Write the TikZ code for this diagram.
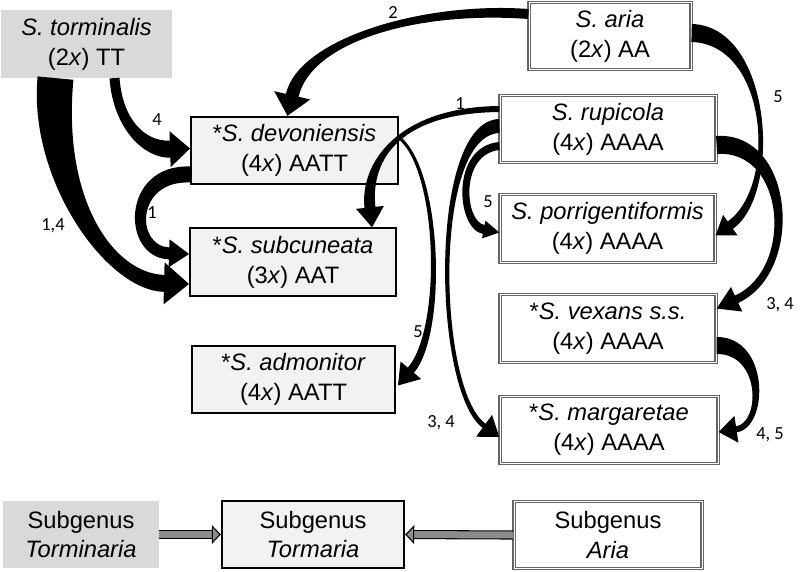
\documentclass[tikz,border=0pt]{standalone}
\usepackage{fontspec}
\setmainfont{Liberation Sans}
\newfontfamily\numfont{Carlito}
\usetikzlibrary{arrows.meta,calc}
% tapered bent arrow: {start}{control}{control}{tip}{half width start}{half width middle}{half width end}{head length}{head half width}
\def\bentarrow#1#2#3#4#5#6#7#8#9{%
  \coordinate (ba) at (#1);
  \coordinate (bc) at (#2);
  \coordinate (bd) at (#3);
  \coordinate (bb) at (#4);
  \coordinate (bt) at ($(bb)!#8!(bd)$);
  % left edge
  \coordinate (l1) at ($(ba)!#5!90:(bc)$);
  \coordinate (l2) at ($(bc)!#5!-90:(ba)$);
  \coordinate (l3) at ($(bc)!#6!90:(bd)$);
  \coordinate (l4) at ($(bd)!#6!-90:(bc)$);
  \coordinate (l5) at ($(bd)!#7!90:(bt)$);
  \coordinate (l6) at ($(bt)!#7!-90:(bd)$);
  \coordinate (lc1) at (intersection of l1--l2 and l3--l4);
  \coordinate (lc2) at (intersection of l3--l4 and l5--l6);
  % right edge
  \coordinate (r1) at ($(ba)!#5!-90:(bc)$);
  \coordinate (r2) at ($(bc)!#5!90:(ba)$);
  \coordinate (r3) at ($(bc)!#6!-90:(bd)$);
  \coordinate (r4) at ($(bd)!#6!90:(bc)$);
  \coordinate (r5) at ($(bd)!#7!-90:(bt)$);
  \coordinate (r6) at ($(bt)!#7!90:(bd)$);
  \coordinate (rc1) at (intersection of r1--r2 and r3--r4);
  \coordinate (rc2) at (intersection of r3--r4 and r5--r6);
  \fill (l1) .. controls (lc1) and (lc2) .. (l6) -- ($(bt)!#9!-90:(bd)$) -- (bb) -- ($(bt)!#9!90:(bd)$)
    -- (r6) .. controls (rc2) and (rc1) .. (r1) -- cycle;
}
\tikzset{
  spbox/.style={minimum width=#1, minimum height=1.35cm, inner sep=0pt, align=center, font=\fontsize{13.5}{17}\selectfont},
  torm/.style={spbox=#1, fill=black!15},
  hyb/.style={spbox=#1, fill=black!5, draw=black, line width=1.1pt},
  ariab/.style={spbox=#1, fill=white, draw=black!60, double=white, double distance=0.5pt, line width=0.7pt},
  num/.style={font=\numfont\fontsize{10.5}{12}\selectfont, inner sep=1pt},
  subarr/.style={draw=black, line width=0.6pt, double=black!45, double distance=0.14cm, -{Triangle[length=0.18cm,width=0.38cm,fill=black!45]}}
}

\begin{document}
\begin{tikzpicture}[x=0.02cm, y=-0.02cm]
			%%%%% START %%%%%
			\useasboundingbox (0,0) rectangle (800,571);
			
			% species
			\node[torm=3.42cm] (tormin) at (86.5,44) {\textit{S. torminalis}\\(2\textit{x}) TT};
			\node[ariab=3.24cm] (aria) at (610,36) {\textit{S. aria}\\(2\textit{x}) AA};
			\node[hyb=4.14cm] (devon) at (294.5,150.5) {*\textit{S. devoniensis}\\(4\textit{x}) AATT};
			\node[ariab=4.32cm] (rupic) at (608,129) {\textit{S. rupicola}\\(4\textit{x}) AAAA};
			\node[ariab=4.3cm] (porrig) at (607.5,228.5) {\textit{S. porrigentiformis}\\(4\textit{x}) AAAA};
			\node[hyb=4.12cm] (subcun) at (293,262) {*\textit{S. subcuneata}\\(3\textit{x}) AAT};
			\node[hyb=4.06cm] (admon) at (293.5,379.5) {*\textit{S. admonitor}\\(4\textit{x}) AATT};
			\node[ariab=4.32cm] (vexans) at (608,328.5) {*\textit{S. vexans s.s.}\\(4\textit{x}) AAAA};
			\node[ariab=4.36cm] (margar) at (609,430) {*\textit{S. margaretae}\\(4\textit{x}) AAAA};
			
			% subgenera
			\node[torm=3.12cm] (subTorminaria) at (81,534.5) {Subgenus\\\textit{Torminaria}};
			\node[hyb=3.64cm, line width=1.4pt] (subTormaria) at (313,534.5) {Subgenus\\\textit{Tormaria}};
			\node[ariab=3.76cm] (subAria) at (608,535) {Subgenus\\\textit{Aria}};
			
			\draw[subarr] (subTorminaria.east) -- (subTormaria.west);
			\draw[subarr] (subAria.west) -- (subTormaria.east);
			
			% crosses
			\bentarrow{$(tormin.south)+(28,0)$}{118,125}{145,150}{$(devon.west)+(0,-2)$}{0.1cm}{0.13cm}{0.17cm}{0.4cm}{0.36cm}
			\bentarrow{$(tormin.south)+(-31,0)$}{45,190}{110,282}{$(subcun.west)+(0,22)$}{0.36cm}{0.16cm}{0.17cm}{0.5cm}{0.42cm}
			\bentarrow{$(devon.west)+(0,24)$}{128,172}{128,252}{$(subcun.west)+(0,-8)$}{0.16cm}{0.15cm}{0.12cm}{0.4cm}{0.28cm}
			\bentarrow{$(aria.west)+(0,-22)$}{420,6}{305,40}{$(devon.north)+(-7,0)$}{0.1cm}{0.07cm}{0.13cm}{0.42cm}{0.37cm}
			\bentarrow{$(aria.east)+(0,-3)$}{770,35}{780,190}{$(porrig.east)+(0,7)$}{0.18cm}{0.05cm}{0.09cm}{0.36cm}{0.25cm}
			\bentarrow{$(rupic.west)+(0,-20)$}{400,110}{365,160}{$(subcun.north)+(79,0)$}{0.06cm}{0.06cm}{0.11cm}{0.4cm}{0.28cm}
			\bentarrow{$(rupic.west)+(0,17)$}{455,150}{460,225}{$(porrig.west)+(0,4)$}{0.08cm}{0.09cm}{0.09cm}{0.32cm}{0.18cm}
			\bentarrow{$(rupic.west)+(0,-3)$}{430,128}{435,390}{$(margar.west)+(0,7)$}{0.14cm}{0.05cm}{0.05cm}{0.38cm}{0.27cm}
			\bentarrow{$(devon.east)+(0,-13)$}{440,170}{445,330}{$(admon.east)+(2,6)$}{0.03cm}{0.05cm}{0.08cm}{0.4cm}{0.27cm}
			\bentarrow{$(rupic.east)+(0,16)$}{790,140}{800,270}{$(vexans.east)+(0,-20)$}{0.18cm}{0.11cm}{0.08cm}{0.44cm}{0.27cm}
			\bentarrow{$(vexans.east)+(0,17)$}{765,345}{765,425}{$(margar.east)+(0,2)$}{0.17cm}{0.09cm}{0.06cm}{0.36cm}{0.27cm}
			
			% occurrence numbers
			\node[num] (nA) at (393,13) {2};
			\node[num] (nB) at (157,120) {4};
			\node[num] (nC) at (53,226) {1,4};
			\node[num] (nD) at (152,213) {1};
			\node[num] (nE) at (460,104) {1};
			\node[num] (nF) at (778,97) {5};
			\node[num] (nG) at (488,202) {5};
			\node[num] (nH) at (418,332) {5};
			\node[num] (nI) at (780,305) {3, 4};
			\node[num] (nJ) at (441,423) {3, 4};
			\node[num] (nK) at (770,435) {4, 5};
			
			%%%%% END %%%%%
\end{tikzpicture}
\end{document}
